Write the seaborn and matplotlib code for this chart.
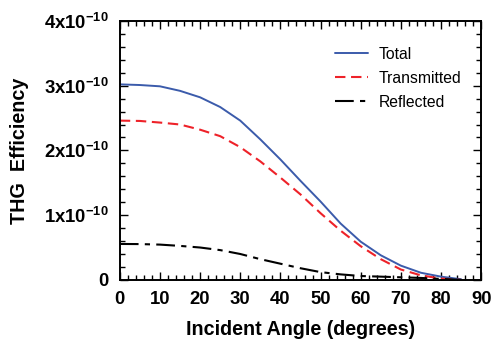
import numpy as np
import pandas as pd
import matplotlib
matplotlib.use("Agg")
import matplotlib.pyplot as plt
import seaborn as sns
from matplotlib.ticker import MultipleLocator, FuncFormatter

angles = [0, 5, 10, 15, 20, 25, 30, 35, 40, 45, 50, 55, 60, 65, 70, 75, 80, 85]
total = [3.02, 3.01, 2.99, 2.92, 2.82, 2.67, 2.46, 2.17, 1.86, 1.53, 1.21, 0.87, 0.59, 0.38, 0.22, 0.11, 0.05, 0.01]
transmitted = [2.46, 2.455, 2.43, 2.40, 2.32, 2.22, 2.05, 1.83, 1.58, 1.32, 1.03, 0.76, 0.52, 0.32, 0.16, 0.07, 0.02, 0.0]
reflected = [0.555, 0.553, 0.545, 0.525, 0.50, 0.46, 0.40, 0.32, 0.25, 0.18, 0.12, 0.085, 0.06, 0.05, 0.04, 0.03, 0.015, 0.0]
scale = 1e-10
y_ticks = [0, 1, 2, 3, 4]
x_ticks = [0, 10, 20, 30, 40, 50, 60, 70, 80, 90]

sns.set_style("white")
plt.rcParams["font.family"] = ["Liberation Sans", "DejaVu Sans"]
plt.rcParams["mathtext.fontset"] = "custom"
plt.rcParams["mathtext.rm"] = "Liberation Sans:bold"
plt.rcParams["mathtext.default"] = "regular"
for k in ["text.color", "axes.labelcolor", "xtick.color", "ytick.color", "axes.edgecolor"]:
    plt.rcParams[k] = "black"

fig = plt.figure(figsize=(4.91, 3.43), dpi=100)
ax = fig.add_axes([0.244, 0.184, 0.736, 0.755])

x = np.array(angles)
sns.lineplot(x=x, y=np.array(total) * scale, ax=ax, color="#3b5bab", lw=1.4, label="Total")
sns.lineplot(x=x, y=np.array(transmitted) * scale, ax=ax, color="#ee2229", lw=1.5,
             label="Transmitted")
sns.lineplot(x=x, y=np.array(reflected) * scale, ax=ax, color="black", lw=1.5,
             label="Reflected")
lines = ax.get_lines()
lines[1].set_dashes([5, 2.7])
lines[2].set_dashes([9, 3, 2.5, 3])

ax.set_xlim(0, 90)
ax.set_ylim(0, 4e-10)
ax.set_xticks(x_ticks)
ax.set_yticks([v * scale for v in y_ticks])
ax.xaxis.set_minor_locator(MultipleLocator(2))
ax.yaxis.set_minor_locator(MultipleLocator(0.2e-10))

def yfmt(v, pos):
    n = int(round(v / scale))
    if n == 0:
        return "0"
    return "%dx10$^{-10}$" % n

ax.yaxis.set_major_formatter(FuncFormatter(yfmt))
ax.tick_params(which="both", direction="in", top=True, right=True, left=True, bottom=True,
               width=1, color="black")
ax.tick_params(which="major", length=6, labelsize=13.3, pad=8)
ax.tick_params(which="minor", length=3.5)
for lab in ax.get_xticklabels() + ax.get_yticklabels():
    lab.set_fontweight("bold")
for s in ax.spines.values():
    s.set_linewidth(1.4)
    s.set_color("black")

ax.set_xlabel("Incident Angle (degrees)", fontsize=14.2, fontweight="bold", labelpad=9)
ax.set_ylabel("THG  Efficiency", fontsize=14.2, fontweight="bold", labelpad=11)

leg = ax.legend(loc="upper right", bbox_to_anchor=(0.985, 0.955), frameon=False, fontsize=11.3,
                handlelength=2.1, handletextpad=0.7, labelspacing=0.58)

fig.savefig("out.png", dpi=100)
